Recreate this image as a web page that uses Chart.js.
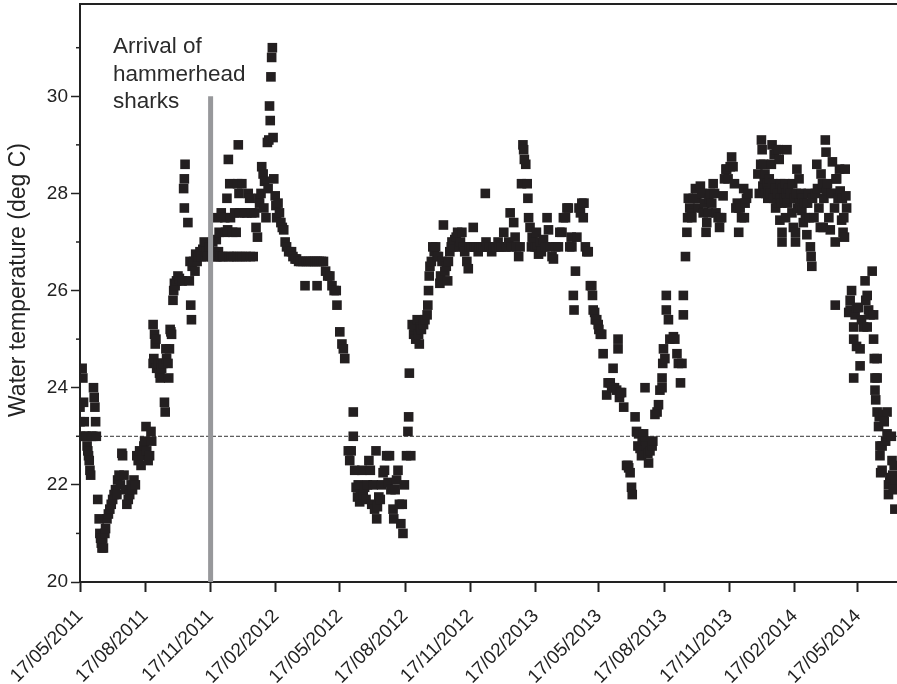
<!DOCTYPE html>
<html>
<head>
<meta charset="utf-8">
<title>Water temperature</title>
<script src="https://cdn.jsdelivr.net/npm/chart.js@4.4.1/dist/chart.umd.min.js"></script>
<style>
  html, body { margin: 0; padding: 0; background: #fff; }
  #wrap { width: 897px; height: 684px; position: relative; }
</style>
</head>
<body>
<div id="wrap"><canvas id="chart"></canvas></div>
<script>
const startDate = Date.UTC(2011, 4, 17);
const tickLabels = ['17/05/2011', '17/08/2011', '17/11/2011', '17/02/2012', '17/05/2012', '17/08/2012',
  '17/11/2012', '17/02/2013', '17/05/2013', '17/08/2013', '17/11/2013', '17/02/2014', '17/05/2014'];
const yTicks = [20, 22, 24, 26, 28, 30];
const yMinor = [21, 23, 25, 27, 29, 31];
const yMin = 20, yMax = 31.9;
const xMax = 1151;

const arrivalLabel = '17/11/2011';
const arrivalTemps = [20, 30];
const thresholdTemp = 23;

const winter2011 = [[0,23.6],[0,23.3],[1,23.0],[3,24.4],[4,24.2],[5,23.7],[6,23.3],[7,23.0],[9,23.0],[10,22.8],[11,22.7],[12,22.6],[13,22.5],[14,22.3],[15,22.2],[16,23.0],[18,23.0],[19,24.0],[20,23.8],[21,23.6],[22,23.3],[23,23.0],[25,21.7],[27,21.3],[28,21.0],[29,20.9],[30,20.8],[31,20.7],[32,20.9],[33,20.7],[35,21.0],[36,21.1],[38,21.3],[40,21.4],[42,21.5],[44,21.6],[46,21.7],[48,21.8],[50,21.9],[52,21.8],[53,22.1],[55,22.2],[57,22.0],[59,22.65],[60,22.6],[62,22.2],[64,21.9],[66,21.6],[68,21.7],[70,21.8],[72,22.0],[74,21.9],[76,22.1],[78,22.0],[80,22.6],[82,22.5],[84,22.7],[86,22.4],[88,22.6],[90,22.8],[91,22.9],[93,23.2],[94,22.7],[96,22.5],[98,22.6],[100,23.1],[101,22.9],[103,25.3],[103,24.5],[104,24.6],[105,25.1],[106,24.9],[107,25.0],[108,24.4],[110,24.5],[112,24.3],[113,24.2],[114,24.5],[115,24.4],[117,24.5],[119,23.7],[120,23.5],[121,24.8],[122,24.6],[124,24.5],[125,24.2],[126,24.8],[127,25.2],[128,25.15],[129,25.1],[131,25.8],[132,26.0],[133,26.15],[134,26.1],[136,26.2],[138,26.3],[140,26.25],[142,26.2],[144,26.2],[146,28.1],[147,28.3],[148,28.6],[147,27.7],[152,27.4],[154,26.2],[155,26.6],[156,25.7],[157,25.4],[158,26.5],[160,26.6],[162,26.4],[163,26.75],[165,26.6],[167,26.7],[169,26.8],[171,26.7],[173,26.85],[175,27.0],[176,26.7],[178,26.8],[180,26.7],[182,26.9]];

const summer2012 = [[186,26.7],[187,27.0],[189,26.8],[191,26.7],[192,27.05],[193,26.7],[194,27.5],[195,26.8],[196,27.2],[198,26.7],[199,27.6],[200,26.7],[202,26.7],[204,27.5],[205,27.2],[207,27.9],[208,27.25],[209,28.7],[210,26.7],[211,28.2],[212,27.5],[213,26.7],[215,27.2],[216,26.7],[218,27.6],[220,27.2],[221,26.7],[222,28.2],[223,29.0],[224,28.0],[225,27.6],[226,26.7],[228,28.2],[229,26.7],[232,27.6],[234,26.7],[235,27.6],[237,28.0],[239,27.9],[240,26.7],[242,27.6],[244,26.7],[246,27.6],[248,27.3],[250,27.1],[252,27.9],[253,27.8],[255,28.0],[256,28.55],[258,28.4],[259,27.7],[260,28.25],[262,27.5],[264,29.05],[265,28.1],[266,29.1],[267,29.8],[268,29.5],[269,30.4],[270,30.8],[271,31.0],[272,29.15],[273,28.3],[275,27.95],[276,27.75],[277,27.5],[279,27.8],[281,27.6],[283,27.4],[285,27.3],[287,27.25],[289,27.0],[291,26.9],[294,26.8],[298,26.8],[300,26.7],[303,26.65],[305,26.65],[308,26.6],[311,26.6],[314,26.6],[317,26.1],[319,26.6],[322,26.6],[325,26.6],[328,26.6],[331,26.6],[334,26.1],[334,26.6],[337,26.6],[340,26.6],[343,26.6],[346,26.4],[349,26.3],[352,26.3],[355,26.1],[358,26.0],[361,26.0],[362,25.7],[366,25.15],[369,24.9],[371,24.8],[373,24.6]];

const winter2012 = [[378,22.7],[380,22.5],[382,22.7],[385,23.5],[385,23.0],[387,22.3],[389,21.95],[391,21.75],[392,22.0],[394,21.65],[395,21.8],[397,22.3],[399,21.8],[401,21.95],[403,21.7],[405,22.0],[407,22.5],[409,22.3],[411,21.6],[413,22.0],[415,21.5],[417,22.7],[418,21.3],[419,21.55],[421,21.75],[423,21.7],[425,22.0],[427,22.25],[429,22.3],[432,22.6],[434,22.05],[436,22.6],[438,21.9],[441,21.5],[442,21.3],[444,21.9],[446,22.1],[448,22.3],[450,21.6],[452,21.2],[454,21.6],[455,21.0],[457,22.0],[460,22.6],[462,23.1],[463,23.4],[464,24.3],[466,22.6]];

const summer2013 = [[468,25.3],[470,25.1],[471,25.25],[473,25.0],[475,25.4],[477,25.1],[478,24.9],[479,25.25],[481,25.2],[484,25.3],[486,25.4],[489,25.5],[490,25.7],[491,26.0],[492,26.3],[493,26.5],[495,26.6],[497,26.9],[499,26.8],[501,26.9],[503,26.7],[505,26.7],[507,26.15],[508,26.3],[510,26.6],[512,27.35],[514,26.4],[516,26.5],[518,26.2],[519,26.6],[521,26.8],[523,26.9],[524,27.0],[526,26.9],[528,27.05],[530,27.1],[532,27.2],[534,26.9],[536,27.0],[538,27.2],[540,26.9],[542,26.8],[545,26.6],[547,26.45],[549,26.9],[551,26.9],[554,27.3],[556,26.9],[558,26.9],[561,26.8],[563,26.9],[566,26.9],[568,26.9],[571,28.0],[572,27.0],[574,26.9],[577,26.9],[580,26.8],[582,26.9],[585,26.9],[587,26.9],[589,27.0],[591,26.9],[594,26.9],[597,27.2],[599,26.9],[601,26.9],[604,27.0],[606,27.6],[608,26.9],[611,27.4],[613,27.1],[615,26.9],[618,26.7],[620,26.9],[622,28.2],[624,29.0],[625,28.9],[626,28.7],[628,28.6],[630,28.2],[631,27.9],[632,27.5],[634,27.3],[636,26.9],[637,27.1],[639,27.0],[641,26.9],[643,27.2],[644,26.9],[646,26.75],[648,27.0],[650,26.8],[653,27.05],[655,26.9],[658,27.5],[660,27.25],[662,26.9],[665,26.7],[667,26.65],[670,26.9],[674,26.9],[676,27.2],[679,27.2],[681,27.5],[684,27.5],[686,27.7],[688,27.7],[690,26.9],[692,27.1],[693,26.9],[695,25.9],[696,25.6],[698,26.4],[700,27.1],[703,27.7],[705,27.6],[707,27.8],[709,27.5],[710,27.8],[712,26.9],[714,26.8],[716,26.8]];

const winter2013 = [[719,26.1],[721,26.1],[722,25.9],[723,25.6],[725,25.55],[726,25.4],[728,25.4],[730,25.3],[731,25.2],[733,25.1],[735,25.1],[737,24.7],[742,23.85],[744,24.1],[747,24.1],[749,24.0],[751,24.4],[753,24.0],[756,23.95],[758,25.0],[758,24.8],[760,23.8],[761,23.9],[763,23.9],[766,23.6],[770,22.4],[772,22.4],[773,22.35],[775,22.25],[777,21.95],[778,21.8],[782,23.4],[784,23.1],[786,22.8],[787,23.05],[789,22.75],[791,22.6],[792,22.9],[794,23.05],[796,24.0],[796,22.9],[798,22.8],[800,22.65],[801,22.45],[803,22.7],[806,22.8],[807,22.9],[810,23.45],[813,23.5],[815,23.65],[817,23.95],[820,24.0],[820,24.2],[821,24.5],[822,24.8],[824,24.6],[826,25.6],[826,25.9],[829,25.4],[831,25.0],[836,25.05],[838,25.0],[841,24.7],[843,24.5],[846,24.1],[848,24.5],[850,25.5],[850,25.9]];

const summer2014 = [[853,26.7],[855,27.2],[856,27.5],[857,27.9],[859,27.7],[861,27.6],[862,27.5],[864,27.9],[867,28.1],[869,27.9],[871,27.7],[874,28.15],[876,28.0],[878,27.6],[880,27.8],[882,27.2],[883,27.4],[885,27.6],[886,27.9],[888,28.0],[890,27.8],[892,28.2],[894,28.0],[896,27.6],[899,27.5],[901,27.3],[902,27.5],[904,27.5],[906,27.95],[908,28.3],[910,28.5],[911,28.5],[913,28.3],[916,28.55],[918,28.75],[920,28.55],[922,28.2],[924,27.7],[926,27.8],[928,27.7],[928,27.2],[930,27.7],[932,27.5],[935,28.1],[936,27.5],[937,27.8],[939,27.9],[941,28.0],[955,28.4],[957,28.0],[959,28.6],[960,29.1],[961,28.9],[962,28.15],[963,28.6],[964,28.3],[965,28.4],[966,28.0],[968,28.2],[969,27.9],[970,28.05],[971,28.3],[972,28.0],[974,28.6],[975,29.0],[976,28.2],[977,27.9],[978,28.8],[979,28.1],[980,27.7],[981,28.9],[982,27.8],[983,28.0],[984,28.9],[985,28.7],[986,27.9],[986,27.45],[987,28.2],[988,27.8],[989,27.2],[989,27.0],[990,28.1],[992,27.9],[993,28.2],[994,27.5],[995,28.0],[996,28.9],[997,27.8],[998,28.1],[1000,27.9],[1001,28.0],[1003,27.6],[1004,28.2],[1005,27.3],[1006,27.9],[1008,27.2],[1008,27.0],[1009,28.0],[1010,28.5],[1011,27.7],[1013,28.3],[1014,27.8],[1015,27.7],[1016,28.0],[1017,27.65],[1018,27.9],[1019,27.4],[1020,27.8],[1022,27.5],[1024,27.15],[1025,27.8],[1026,28.0],[1027,27.5],[1029,26.9],[1030,26.7],[1031,26.5],[1032,27.9],[1034,27.5],[1036,28.0],[1038,28.6],[1039,28.1],[1041,27.7],[1043,27.3],[1044,28.4],[1046,28.2],[1047,27.3],[1048,27.9],[1050,29.1],[1051,28.85],[1052,28.05],[1053,28.2],[1055,27.5],[1057,27.25],[1058,28.0],[1060,28.65],[1062,28.0],[1063,27.7],[1064,27.0],[1065,28.3],[1066,28.3],[1068,27.9],[1070,28.5],[1071,28.05],[1073,27.45],[1074,27.9],[1075,27.2],[1076,27.5],[1077,27.1],[1078,28.5],[1079,27.95],[1080,27.7]];

const winter2014 = [[1064,25.7],[1083,25.55],[1085,25.8],[1085,25.6],[1087,26.0],[1090,25.25],[1090,25.0],[1090,24.2],[1092,25.5],[1094,25.65],[1094,24.85],[1097,25.65],[1099,24.8],[1099,24.45],[1101,25.4],[1104,25.25],[1106,26.2],[1107,25.8],[1109,25.9],[1109,25.25],[1111,25.6],[1113,25.5],[1116,26.4],[1118,25.5],[1118,25.0],[1119,24.6],[1120,24.2],[1120,23.95],[1121,23.75],[1123,24.6],[1123,24.2],[1123,23.5],[1125,23.2],[1126,23.4],[1127,22.8],[1127,22.6],[1128,22.25],[1130,22.3],[1130,22.8],[1132,23.45],[1133,23.3],[1135,22.9],[1137,23.05],[1137,23.5],[1139,21.8],[1139,22.0],[1141,22.05],[1141,22.15],[1143,23.0],[1144,22.5],[1145,22.2],[1146,21.95],[1146,21.9],[1147,22.4],[1148,21.5],[1149,22.1]];

function dayOf(label) {
  var p = label.split('/').map(Number);
  return Math.round((Date.UTC(p[2], p[1] - 1, p[0]) - startDate) / 86400000);
}

const tickDays = tickLabels.map(dayOf);
const arrivalDay = dayOf(arrivalLabel);

const allPoints = [].concat(winter2011, summer2012, winter2012, summer2013, winter2013, summer2014, winter2014)
  .map(function(p) { return { x: p[0], y: p[1] }; });

const FONT = '"Liberation Sans", Arial, Helvetica, sans-serif';
const INK = '#222222';

// frame top line, minor y ticks, axis title, annotation text
const decor = {
  id: 'decor',
  afterDraw: function(chart) {
    var ctx = chart.ctx, a = chart.chartArea, y = chart.scales.y;
    ctx.save();
    ctx.strokeStyle = INK;
    ctx.lineWidth = 2;
    ctx.beginPath();
    ctx.moveTo(a.left - 1, a.top);
    ctx.lineTo(a.right, a.top);
    ctx.stroke();

    ctx.lineWidth = 1.5;
    yMinor.forEach(function(v) {
      var py = y.getPixelForValue(v);
      ctx.beginPath();
      ctx.moveTo(a.left - 4, py);
      ctx.lineTo(a.left, py);
      ctx.stroke();
    });

    ctx.fillStyle = INK;
    ctx.font = '23px ' + FONT;
    ctx.textAlign = 'center';
    ctx.textBaseline = 'alphabetic';
    ctx.save();
    ctx.translate(25, (a.top + a.bottom) / 2 - 13);
    ctx.rotate(-Math.PI / 2);
    ctx.fillText('Water temperature (deg C)', 0, 0);
    ctx.restore();

    ctx.fillStyle = '#2b2b2b';
    ctx.font = '22.5px ' + FONT;
    ctx.textAlign = 'left';
    ['Arrival of', 'hammerhead', 'sharks'].forEach(function(line, i) {
      ctx.fillText(line, 113, 53 + i * 27.7);
    });
    ctx.restore();
  }
};

new Chart(document.getElementById('chart'), {
  type: 'scatter',
  data: {
    datasets: [
      {
        label: 'Arrival',
        data: arrivalTemps.map(function(t) { return { x: arrivalDay, y: t }; }),
        showLine: true,
        borderColor: '#97989b',
        borderWidth: 5,
        pointRadius: 0,
        order: 0
      },
      {
        label: 'Water temperature',
        data: allPoints,
        pointStyle: 'rect',
        pointRadius: 6.8,
        pointBorderWidth: 0,
        backgroundColor: '#231f20',
        borderColor: '#231f20',
        order: 1
      },
      {
        label: 'Threshold',
        data: [{ x: 0, y: thresholdTemp }, { x: xMax, y: thresholdTemp }],
        showLine: true,
        borderColor: '#333333',
        borderWidth: 1,
        borderDash: [4, 2],
        pointRadius: 0,
        order: 2
      }
    ]
  },
  options: {
    responsive: true,
    maintainAspectRatio: false,
    animation: false,
    layout: { autoPadding: false, padding: { top: 4, right: 0, left: 0, bottom: 0 } },
    plugins: { legend: { display: false }, tooltip: { enabled: false } },
    scales: {
      x: {
        type: 'linear',
        min: 0,
        max: xMax,
        afterBuildTicks: function(scale) { scale.ticks = tickDays.map(function(d) { return { value: d }; }); },
        afterFit: function(scale) { scale.height = 102; scale.paddingLeft = 0; scale.paddingRight = 0; },
        grid: { drawOnChartArea: false, drawTicks: true, tickLength: 10, tickColor: INK, tickWidth: 2 },
        border: { display: true, color: INK, width: 2 },
        ticks: {
          autoSkip: false,
          maxRotation: 45,
          minRotation: 45,
          padding: 13,
          color: INK,
          font: { family: FONT, size: 19 },
          callback: function(v, i) { return tickLabels[i]; }
        }
      },
      y: {
        min: yMin,
        max: yMax,
        afterBuildTicks: function(scale) { scale.ticks = yTicks.map(function(v) { return { value: v }; }); },
        afterFit: function(scale) { scale.width = 80; scale.paddingTop = 0; scale.paddingBottom = 0; },
        grid: { drawOnChartArea: false, drawTicks: true, tickLength: 9, tickColor: INK, tickWidth: 1.5 },
        border: { display: true, color: INK, width: 2 },
        ticks: {
          padding: 3,
          color: INK,
          font: { family: FONT, size: 19 },
          callback: function(v) { return String(v); }
        }
      }
    }
  },
  plugins: [decor]
});
</script>
</body>
</html>
